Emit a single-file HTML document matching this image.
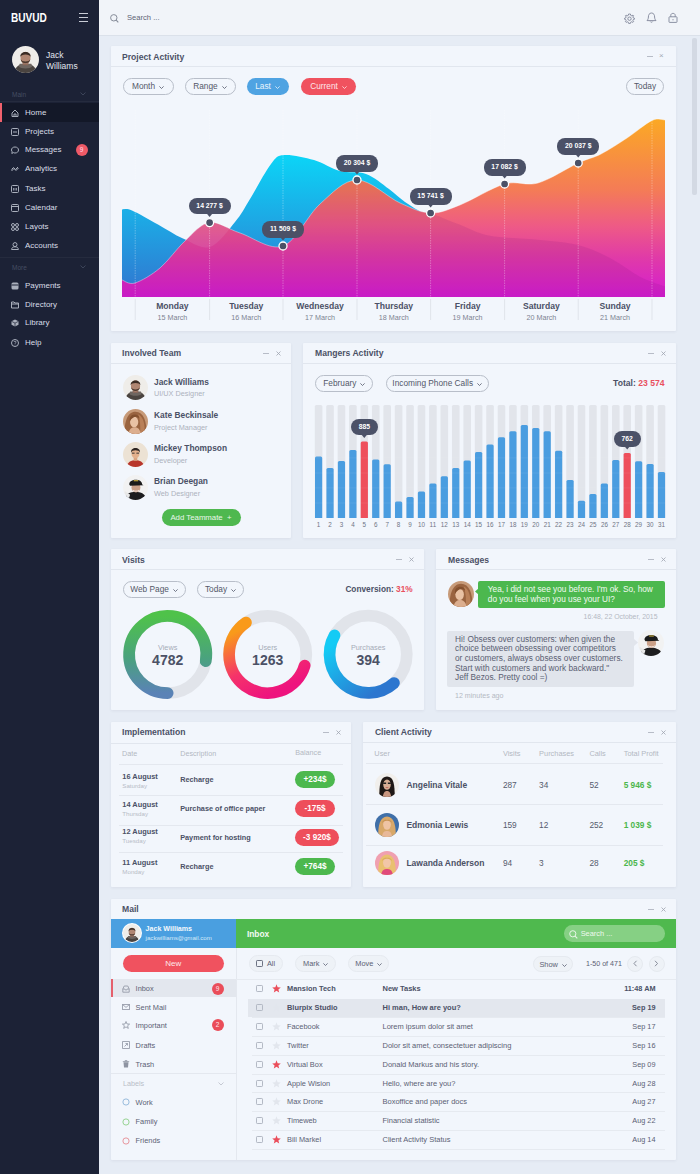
<!DOCTYPE html>
<html><head><meta charset="utf-8">
<style>
*{box-sizing:border-box;margin:0;padding:0}
html,body{width:700px;height:1174px;overflow:hidden}
body{background:#e6ecf5;font-family:"Liberation Sans",sans-serif;color:#4b5166;position:relative}
.a{position:absolute;white-space:nowrap}
#side{position:absolute;left:0;top:0;width:99px;height:1174px;background:#1c2236}
#hdr{position:absolute;left:99px;top:0;width:601px;height:36px;background:#f1f4f9;border-bottom:1px solid #dbe1ea}
.card{position:absolute;background:#f2f6fc;border-radius:1px;box-shadow:0 1px 3px rgba(50,60,90,.07)}
.ttl{position:absolute;left:11px;top:6px;font-size:8.6px;font-weight:bold;color:#4b5166;white-space:nowrap;line-height:10px}
.hl{position:absolute;left:0;right:0;height:1px;background:#e1e6ee}
.mn{position:absolute;width:6px;height:1px;background:#b7bcc7}
.cx{position:absolute;font-size:8px;color:#a3a9b5;line-height:8px}
.btn{position:absolute;border:1px solid #b8bec9;border-radius:9px;font-size:8.3px;color:#525869;text-align:center;white-space:nowrap}
.nav{position:absolute;left:25px;font-size:8px;color:#d9dde6;white-space:nowrap}
.ico{position:absolute;left:11px}
.tip{width:42px;height:16.5px;line-height:16.5px;border-radius:8px;background:#4b5167;color:#fff;font-size:6.8px;font-weight:bold;text-align:center}
.day{width:70px;text-align:center;font-size:8.6px;font-weight:bold;color:#4b5166;line-height:10px}
.dat{width:70px;text-align:center;font-size:7.2px;color:#7d8392;line-height:9px}
.chv{display:inline-block;margin-left:4px;vertical-align:middle;position:relative;top:0.5px}
</style></head><body>
<div id="side">
  <div class="a" style="left:11.4px;top:10.8px;font-size:12px;font-weight:bold;color:#fff;line-height:14px;transform:scaleX(0.84);transform-origin:0 0">BUVUD</div>
  <div class="a" style="left:79px;top:13px;width:9px;height:1px;background:#c9cdd7"></div>
  <div class="a" style="left:79px;top:17px;width:9px;height:1px;background:#c9cdd7"></div>
  <div class="a" style="left:79px;top:21px;width:9px;height:1px;background:#c9cdd7"></div>
  <svg class="a" style="left:11.5px;top:45.5px" width="27" height="27" viewBox="0 0 28 28"><defs><clipPath id="avc1"><circle cx="14" cy="14" r="14"/></clipPath></defs><g clip-path="url(#avc1)"><rect width="28" height="28" fill="#efede9"/>
<path d="M2 29 C3 21 8 18.5 14 18.5 C20 18.5 25 21 26 29 Z" fill="#4a4440"/>
<path d="M7 21 C9 24 19 24 21 21 L20 18.5 H8 Z" fill="#6e6661"/>
<rect x="11" y="15" width="6" height="5" fill="#8d6b5c"/>
<ellipse cx="14" cy="12.3" rx="5.2" ry="6.4" fill="#b08672"/>
<path d="M8.6 11.5 C8 4.5 20 4.5 19.4 11.5 C18.8 8 9.2 8 8.6 11.5 Z" fill="#3b2c24"/>
<path d="M9 13.5 C9.5 19.5 18.5 19.5 19 13.5 C18 17 10 17 9 13.5 Z" fill="#4d3a30"/></g></svg>
  <div class="a" style="left:46px;top:50px;font-size:8.5px;color:#e3e6ee;line-height:11px">Jack<br>Williams</div>
  <div class="a" style="left:12px;top:89.5px;font-size:6.5px;color:#454d62;line-height:9px">Main</div>
  <svg class="a" style="left:80px;top:92px" width="6" height="4" viewBox="0 0 6 4"><path d="M0.5 0.5 L3 3 L5.5 0.5" fill="none" stroke="#454d62" stroke-width=".8"/></svg>
  <div class="a" style="left:0;top:101px;width:99px;height:1px;background:#252b3e"></div>
  <div class="a" style="left:0;top:103px;width:99px;height:19px;background:#131828"></div>
  <div class="a" style="left:0;top:103px;width:2px;height:19px;background:#f0616d"></div>
  <div class="a" style="left:0;top:257px;width:99px;height:1px;background:#252b3e"></div>
  <div class="a" style="left:12px;top:262.5px;font-size:6.5px;color:#454d62;line-height:9px">More</div>
  <svg class="a" style="left:80px;top:265px" width="6" height="4" viewBox="0 0 6 4"><path d="M0.5 0.5 L3 3 L5.5 0.5" fill="none" stroke="#454d62" stroke-width=".8"/></svg>
  <div class="a" style="left:75.5px;top:144px;width:12px;height:12px;border-radius:6px;background:#ef5a67;color:#fde;font-size:6.5px;text-align:center;line-height:12px">9</div>
  <svg class="ico" style="top:109.0px" width="8" height="8" viewBox="0 0 8 8"><path d="M1 4 L4 1 L7 4 V7.5 H1 Z M3 7.5 V5 H5 V7.5" fill="none" stroke="#a9afbc" stroke-width="1"/></svg>
  <div class="nav" style="top:108.0px;line-height:10px">Home</div>
  <svg class="ico" style="top:127.5px" width="8" height="8" viewBox="0 0 8 8"><rect x="0.5" y="0.5" width="7" height="7" rx="1" fill="none" stroke="#a9afbc"/><path d="M2 4 H6" stroke="#a9afbc"/></svg>
  <div class="nav" style="top:126.5px;line-height:10px">Projects</div>
  <svg class="ico" style="top:146.0px" width="8" height="8" viewBox="0 0 8 8"><path d="M4 1 C6.2 1 7.5 2.3 7.5 4 C7.5 5.7 6.2 7 4 7 C3.3 7 2.8 6.9 2.3 6.6 L0.8 7.5 L1.2 5.8 C0.7 5.3 0.5 4.7 0.5 4 C0.5 2.3 1.8 1 4 1 Z" fill="none" stroke="#a9afbc"/></svg>
  <div class="nav" style="top:145.0px;line-height:10px">Messages</div>
  <svg class="ico" style="top:165.0px" width="8" height="8" viewBox="0 0 8 8"><path d="M0.5 6 L3 3.5 L5 5.5 L7.5 3 M0.5 4.5 L2.5 2.5 L4.5 4.5 L7 2" fill="none" stroke="#a9afbc"/></svg>
  <div class="nav" style="top:164.0px;line-height:10px">Analytics</div>
  <svg class="ico" style="top:184.5px" width="8" height="8" viewBox="0 0 8 8"><rect x="0.5" y="0.5" width="7" height="7" rx="1" fill="none" stroke="#a9afbc"/><path d="M2.5 3 V5.5 M4 3 V5.5 M5.5 3 V5.5" stroke="#a9afbc" stroke-width=".8"/></svg>
  <div class="nav" style="top:183.5px;line-height:10px">Tasks</div>
  <svg class="ico" style="top:203.5px" width="8" height="8" viewBox="0 0 8 8"><rect x="0.5" y="0.5" width="7" height="7" rx="1" fill="none" stroke="#a9afbc"/><path d="M0.5 2.5 H7.5" stroke="#a9afbc"/></svg>
  <div class="nav" style="top:202.5px;line-height:10px">Calendar</div>
  <svg class="ico" style="top:222.5px" width="8" height="8" viewBox="0 0 8 8"><circle cx="2" cy="2" r="1.5" fill="none" stroke="#a9afbc"/><circle cx="6" cy="2" r="1.5" fill="none" stroke="#a9afbc"/><circle cx="2" cy="6" r="1.5" fill="none" stroke="#a9afbc"/><circle cx="6" cy="6" r="1.5" fill="none" stroke="#a9afbc"/></svg>
  <div class="nav" style="top:221.5px;line-height:10px">Layots</div>
  <svg class="ico" style="top:241.5px" width="8" height="8" viewBox="0 0 8 8"><circle cx="4" cy="2.6" r="2" fill="none" stroke="#a9afbc"/><path d="M0.6 7.5 C0.8 5.5 2 4.8 4 4.8 C6 4.8 7.2 5.5 7.4 7.5 Z" fill="none" stroke="#a9afbc"/></svg>
  <div class="nav" style="top:240.5px;line-height:10px">Accounts</div>
  <svg class="ico" style="top:281.5px" width="8" height="8" viewBox="0 0 8 8"><rect x="0.5" y="0.5" width="7" height="7" rx="1.5" fill="#a9afbc"/><path d="M0.5 3 H7.5" stroke="#1c2236" stroke-width="1"/></svg>
  <div class="nav" style="top:280.5px;line-height:10px">Payments</div>
  <svg class="ico" style="top:300.5px" width="8" height="8" viewBox="0 0 8 8"><path d="M0.5 1 H3 L4 2 H7.5 V7 H0.5 Z M0.5 3 H7.5" fill="none" stroke="#a9afbc"/></svg>
  <div class="nav" style="top:299.5px;line-height:10px">Directory</div>
  <svg class="ico" style="top:319.0px" width="8" height="8" viewBox="0 0 8 8"><path d="M4 0.5 L7.5 2.3 V5.7 L4 7.5 L0.5 5.7 V2.3 Z" fill="#a9afbc"/><path d="M0.5 2.3 L4 4.1 L7.5 2.3 M4 4.1 V7.5" fill="none" stroke="#1c2236" stroke-width=".7"/></svg>
  <div class="nav" style="top:318.0px;line-height:10px">Library</div>
  <svg class="ico" style="top:338.5px" width="8" height="8" viewBox="0 0 8 8"><circle cx="4" cy="4" r="3.5" fill="none" stroke="#a9afbc"/><path d="M2.8 3 C2.8 2 5.2 2 5.2 3 C5.2 3.8 4 3.8 4 4.8 M4 5.7 V6.2" fill="none" stroke="#a9afbc" stroke-width=".8"/></svg>
  <div class="nav" style="top:337.5px;line-height:10px">Help</div>
</div>

<div id="hdr">
  <svg class="a" style="left:11px;top:14px" width="9" height="9" viewBox="0 0 9 9"><circle cx="3.8" cy="3.8" r="3.2" fill="none" stroke="#868c99" stroke-width="1"/><path d="M6.2 6.2 L8.3 8.3" stroke="#868c99" stroke-width="1.1"/></svg>
  <div class="a" style="left:28px;top:13px;font-size:7.6px;color:#5d6375;line-height:10px">Search ...</div>
  <svg class="a" style="left:525px;top:12.5px" width="11" height="11" viewBox="0 0 11 11"><path d="M5.5 1 L6.4 1 L6.7 2.3 L7.8 2.8 L9 2.1 L9.6 2.8 L8.9 3.9 L9.3 5 L10.5 5.3 V6.2 L9.3 6.5 L8.9 7.6 L9.6 8.7 L8.9 9.4 L7.8 8.7 L6.7 9.2 L6.4 10.4 H4.6 L4.3 9.2 L3.2 8.7 L2.1 9.4 L1.4 8.7 L2.1 7.6 L1.7 6.5 L0.5 6.2 V5.3 L1.7 5 L2.1 3.9 L1.4 2.8 L2.1 2.1 L3.2 2.8 L4.3 2.3 L4.6 1 Z" fill="none" stroke="#80869a" stroke-width=".9"/><circle cx="5.5" cy="5.7" r="1.7" fill="none" stroke="#80869a" stroke-width=".9"/></svg>
  <svg class="a" style="left:547px;top:12px" width="11" height="11" viewBox="0 0 11 11"><path d="M5.5 1 C3.2 1 2.4 3 2.4 5 C2.4 7 1.5 8 1 8.6 H10 C9.5 8 8.6 7 8.6 5 C8.6 3 7.8 1 5.5 1 Z" fill="none" stroke="#80869a" stroke-width=".9"/><path d="M4.3 9.6 C4.6 10.4 6.4 10.4 6.7 9.6" fill="none" stroke="#80869a" stroke-width=".9"/></svg>
  <svg class="a" style="left:569px;top:12px" width="10" height="11" viewBox="0 0 10 11"><rect x="1" y="4.8" width="8" height="5.6" rx=".6" fill="none" stroke="#80869a" stroke-width=".9"/><path d="M2.8 4.8 V3.2 C2.8 0.8 7.2 0.8 7.2 3.2 V4.8" fill="none" stroke="#80869a" stroke-width=".9"/><path d="M5 7 V8.4" stroke="#80869a" stroke-width=".8"/></svg>
</div>
<div class="a" style="left:692px;top:38px;width:4.5px;height:157px;border-radius:2px;background:#d3d9e3"></div>
<!-- card1 -->
<div class="card" style="left:111px;top:46px;width:565px;height:285px">
  <div class="ttl">Project Activity</div>
  <div class="hl" style="top:20px"></div>
  <div class="mn" style="left:536px;top:10px"></div>
  <div class="cx" style="left:548px;top:6px">×</div>
  <div class="btn" style="left:11.5px;top:32px;width:51px;height:17px;line-height:15px">Month<svg class="chv" width="5" height="3" viewBox="0 0 5 3"><path d="M.4 .4 L2.5 2.5 L4.6 .4" fill="none" stroke="currentColor" stroke-width=".8"/></svg></div>
  <div class="btn" style="left:73.5px;top:32px;width:51px;height:17px;line-height:15px">Range<svg class="chv" width="5" height="3" viewBox="0 0 5 3"><path d="M.4 .4 L2.5 2.5 L4.6 .4" fill="none" stroke="currentColor" stroke-width=".8"/></svg></div>
  <div class="btn" style="left:135.5px;top:32px;width:42px;height:17px;line-height:17px;border:none;background:#4fa3e2;color:#e9f3fc">Last<svg class="chv" width="5" height="3" viewBox="0 0 5 3"><path d="M.4 .4 L2.5 2.5 L4.6 .4" fill="none" stroke="currentColor" stroke-width=".8"/></svg></div>
  <div class="btn" style="left:190px;top:32px;width:55px;height:17px;line-height:17px;border:none;background:#f0525f;color:#fde6e8">Current<svg class="chv" width="5" height="3" viewBox="0 0 5 3"><path d="M.4 .4 L2.5 2.5 L4.6 .4" fill="none" stroke="currentColor" stroke-width=".8"/></svg></div>
  <div class="btn" style="left:515px;top:32px;width:38px;height:17px;line-height:15px">Today</div>
<svg class="a" style="left:0;top:0" width="565" height="285" viewBox="0 0 565 285">
<defs>
<linearGradient id="gP" x1="0" y1="74" x2="0" y2="251" gradientUnits="userSpaceOnUse">
<stop offset="0" stop-color="#fba825"/><stop offset="0.4" stop-color="#f47b57"/><stop offset="0.6" stop-color="#ee5a86"/><stop offset="0.78" stop-color="#e03aa8"/><stop offset="1" stop-color="#d41dd2"/></linearGradient>
<linearGradient id="gB" x1="0" y1="104" x2="0" y2="251" gradientUnits="userSpaceOnUse">
<stop offset="0" stop-color="#0ad8f8"/><stop offset="1" stop-color="#3274cf"/></linearGradient>
<clipPath id="cR"><rect x="11" y="0" width="318" height="251"/></clipPath>
<clipPath id="cP"><path d="M11.0,234.0 C13.2,234.5 17.7,239.0 24.0,237.0 C30.3,235.0 40.7,229.0 49.0,222.0 C57.3,215.0 65.7,202.6 74.0,195.0 C82.3,187.4 89.4,177.9 98.6,176.6 C107.8,175.3 116.8,183.1 129.0,187.0 C141.2,190.9 158.7,204.8 172.0,200.0 C185.3,195.2 196.7,169.0 209.0,158.0 C221.3,147.0 232.7,134.2 246.0,134.0 C259.3,133.8 276.7,151.5 289.0,157.0 C301.3,162.5 309.6,166.7 319.6,167.0 C329.6,167.3 336.7,163.8 349.0,159.0 C361.3,154.2 380.6,141.7 393.6,138.0 C406.6,134.3 414.7,140.5 427.0,137.0 C439.3,133.5 456.7,121.8 467.2,117.0 C477.7,112.2 481.9,112.2 490.0,108.0 C498.1,103.8 507.5,97.6 516.0,92.0 C524.5,86.4 534.7,77.5 541.0,74.5 C547.3,71.5 551.8,74.1 554.0,74.0 L554,251 L11,251 Z"/></clipPath>
</defs>
<path d="M11.0,163.5 C12.7,163.7 15.0,162.0 21.0,164.5 C27.0,167.0 38.5,173.8 47.0,178.5 C55.5,183.2 63.3,188.8 72.0,192.5 C80.7,196.2 90.3,203.8 99.0,201.0 C107.7,198.2 117.3,184.0 124.0,176.0 C130.7,168.0 133.0,162.7 139.0,153.0 C145.0,143.3 154.3,125.3 160.0,118.0 C165.7,110.7 165.8,109.7 173.0,109.0 C180.2,108.3 193.7,111.3 203.0,114.0 C212.3,116.7 220.3,122.7 229.0,125.0 C237.7,127.3 246.8,125.0 255.0,128.0 C263.2,131.0 271.5,138.3 278.0,143.0 C284.5,147.7 288.0,151.8 294.0,156.0 C300.0,160.2 306.5,164.2 314.0,168.0 C321.5,171.8 329.8,164.7 339.0,179.0 C348.2,193.3 333.2,241.5 369.0,254.0 C404.8,266.5 523.2,254.0 554.0,254.0 L554,251 L11,251 Z" fill="url(#gB)" clip-path="url(#cR)"/>
<path d="M11.0,234.0 C13.2,234.5 17.7,239.0 24.0,237.0 C30.3,235.0 40.7,229.0 49.0,222.0 C57.3,215.0 65.7,202.6 74.0,195.0 C82.3,187.4 89.4,177.9 98.6,176.6 C107.8,175.3 116.8,183.1 129.0,187.0 C141.2,190.9 158.7,204.8 172.0,200.0 C185.3,195.2 196.7,169.0 209.0,158.0 C221.3,147.0 232.7,134.2 246.0,134.0 C259.3,133.8 276.7,151.5 289.0,157.0 C301.3,162.5 309.6,166.7 319.6,167.0 C329.6,167.3 336.7,163.8 349.0,159.0 C361.3,154.2 380.6,141.7 393.6,138.0 C406.6,134.3 414.7,140.5 427.0,137.0 C439.3,133.5 456.7,121.8 467.2,117.0 C477.7,112.2 481.9,112.2 490.0,108.0 C498.1,103.8 507.5,97.6 516.0,92.0 C524.5,86.4 534.7,77.5 541.0,74.5 C547.3,71.5 551.8,74.1 554.0,74.0 L554,251 L11,251 Z" fill="url(#gP)"/>
<clipPath id="cT"><rect x="59" y="0" width="70" height="251"/></clipPath>
<g clip-path="url(#cT)"><path d="M59,0 H129 V251 H59 Z M11.0,163.5 C12.7,163.7 15.0,162.0 21.0,164.5 C27.0,167.0 38.5,173.8 47.0,178.5 C55.5,183.2 63.3,188.8 72.0,192.5 C80.7,196.2 90.3,203.8 99.0,201.0 C107.7,198.2 117.3,184.0 124.0,176.0 C130.7,168.0 133.0,162.7 139.0,153.0 C145.0,143.3 154.3,125.3 160.0,118.0 C165.7,110.7 165.8,109.7 173.0,109.0 C180.2,108.3 193.7,111.3 203.0,114.0 C212.3,116.7 220.3,122.7 229.0,125.0 C237.7,127.3 246.8,125.0 255.0,128.0 C263.2,131.0 271.5,138.3 278.0,143.0 C284.5,147.7 288.0,151.8 294.0,156.0 C300.0,160.2 306.5,164.2 314.0,168.0 C321.5,171.8 329.8,164.7 339.0,179.0 C348.2,193.3 333.2,241.5 369.0,254.0 C404.8,266.5 523.2,254.0 554.0,254.0 L554,251 L11,251 Z" fill-rule="evenodd" fill="#ffffff" fill-opacity="0.1" clip-path="url(#cP)"/></g>
<path d="M11.0,234.0 C13.2,234.5 17.7,239.0 24.0,237.0 C30.3,235.0 40.7,229.0 49.0,222.0 C57.3,215.0 65.7,202.6 74.0,195.0 C82.3,187.4 89.4,177.9 98.6,176.6 C107.8,175.3 116.8,183.1 129.0,187.0 C141.2,190.9 158.7,204.8 172.0,200.0 C185.3,195.2 196.7,169.0 209.0,158.0 C221.3,147.0 232.7,134.2 246.0,134.0 C259.3,133.8 276.7,151.5 289.0,157.0 C301.3,162.5 309.6,166.7 319.6,167.0 C329.6,167.3 336.7,163.8 349.0,159.0 C361.3,154.2 380.6,141.7 393.6,138.0 C406.6,134.3 414.7,140.5 427.0,137.0 C439.3,133.5 456.7,121.8 467.2,117.0 C477.7,112.2 481.9,112.2 490.0,108.0 C498.1,103.8 507.5,97.6 516.0,92.0 C524.5,86.4 534.7,77.5 541.0,74.5 C547.3,71.5 551.8,74.1 554.0,74.0" fill="none" stroke="#fff" stroke-opacity="0.5" stroke-width="0.8"/>
<path d="M11,251 L11,0 L319.6,0 L319.6,167.0 C324.5,169.0 339.1,175.0 349.0,178.8 C358.9,182.6 365.7,187.3 379.0,189.8 C392.3,192.3 414.3,192.5 429.0,194.0 C443.7,195.5 455.3,196.0 467.0,199.0 C478.7,202.0 488.7,206.7 499.0,212.0 C509.3,217.3 520.0,226.0 529.0,230.7 C538.0,235.4 548.8,238.4 553.0,240.0 C557.2,241.6 553.8,240.0 554.0,240.0 L554,251 Z" fill="#7a0f7a" fill-opacity="0.13" clip-path="url(#cP)"/>
<line x1="24.19999999999999" y1="64" x2="24.19999999999999" y2="251" stroke="#fff" stroke-opacity="0.5" stroke-width="0.6" stroke-dasharray="1.5,1"/>
<line x1="24.19999999999999" y1="253" x2="24.19999999999999" y2="274" stroke="#e0e4eb" stroke-width="1"/>
<line x1="98.6" y1="64" x2="98.6" y2="251" stroke="#fff" stroke-opacity="0.5" stroke-width="0.6" stroke-dasharray="1.5,1"/>
<line x1="98.6" y1="253" x2="98.6" y2="274" stroke="#e0e4eb" stroke-width="1"/>
<line x1="172" y1="64" x2="172" y2="251" stroke="#fff" stroke-opacity="0.5" stroke-width="0.6" stroke-dasharray="1.5,1"/>
<line x1="172" y1="253" x2="172" y2="274" stroke="#e0e4eb" stroke-width="1"/>
<line x1="246" y1="64" x2="246" y2="251" stroke="#fff" stroke-opacity="0.5" stroke-width="0.6" stroke-dasharray="1.5,1"/>
<line x1="246" y1="253" x2="246" y2="274" stroke="#e0e4eb" stroke-width="1"/>
<line x1="319.6" y1="64" x2="319.6" y2="251" stroke="#fff" stroke-opacity="0.5" stroke-width="0.6" stroke-dasharray="1.5,1"/>
<line x1="319.6" y1="253" x2="319.6" y2="274" stroke="#e0e4eb" stroke-width="1"/>
<line x1="393.6" y1="64" x2="393.6" y2="251" stroke="#fff" stroke-opacity="0.5" stroke-width="0.6" stroke-dasharray="1.5,1"/>
<line x1="393.6" y1="253" x2="393.6" y2="274" stroke="#e0e4eb" stroke-width="1"/>
<line x1="467.20000000000005" y1="64" x2="467.20000000000005" y2="251" stroke="#fff" stroke-opacity="0.5" stroke-width="0.6" stroke-dasharray="1.5,1"/>
<line x1="467.20000000000005" y1="253" x2="467.20000000000005" y2="274" stroke="#e0e4eb" stroke-width="1"/>
<line x1="541" y1="64" x2="541" y2="251" stroke="#fff" stroke-opacity="0.5" stroke-width="0.6" stroke-dasharray="1.5,1"/>
<line x1="541" y1="253" x2="541" y2="274" stroke="#e0e4eb" stroke-width="1"/>
<circle cx="98.6" cy="176.6" r="4" fill="#4b5167" stroke="#fff" stroke-width="1.3"/>
<path d="M96.1,168.1 L98.6,171.1 L101.1,168.1 Z" fill="#4b5167"/>
<circle cx="172" cy="200" r="4" fill="#4b5167" stroke="#fff" stroke-width="1.3"/>
<path d="M169.5,191.5 L172,194.5 L174.5,191.5 Z" fill="#4b5167"/>
<circle cx="246" cy="134" r="4" fill="#4b5167" stroke="#fff" stroke-width="1.3"/>
<path d="M243.5,125.5 L246,128.5 L248.5,125.5 Z" fill="#4b5167"/>
<circle cx="319.6" cy="167" r="4" fill="#4b5167" stroke="#fff" stroke-width="1.3"/>
<path d="M317.1,158.5 L319.6,161.5 L322.1,158.5 Z" fill="#4b5167"/>
<circle cx="393.6" cy="138" r="4" fill="#4b5167" stroke="#fff" stroke-width="1.3"/>
<path d="M391.1,129.5 L393.6,132.5 L396.1,129.5 Z" fill="#4b5167"/>
<circle cx="467.20000000000005" cy="117" r="4" fill="#4b5167" stroke="#fff" stroke-width="1.3"/>
<path d="M464.70000000000005,108.5 L467.20000000000005,111.5 L469.70000000000005,108.5 Z" fill="#4b5167"/>
</svg>
<div class="a tip" style="left:77.6px;top:151.6px">14 277 $</div>
<div class="a tip" style="left:151.0px;top:175.0px">11 509 $</div>
<div class="a tip" style="left:225.0px;top:109.0px">20 304 $</div>
<div class="a tip" style="left:298.6px;top:142.0px">15 741 $</div>
<div class="a tip" style="left:372.6px;top:113.0px">17 082 $</div>
<div class="a tip" style="left:446.2px;top:92.0px">20 037 $</div>
<div class="a day" style="left:26.4px;top:255px">Monday</div>
<div class="a dat" style="left:26.4px;top:266.5px">15 March</div>
<div class="a day" style="left:100.3px;top:255px">Tuesday</div>
<div class="a dat" style="left:100.3px;top:266.5px">16 March</div>
<div class="a day" style="left:174.0px;top:255px">Wednesday</div>
<div class="a dat" style="left:174.0px;top:266.5px">17 March</div>
<div class="a day" style="left:247.8px;top:255px">Thursday</div>
<div class="a dat" style="left:247.8px;top:266.5px">18 March</div>
<div class="a day" style="left:321.6px;top:255px">Friday</div>
<div class="a dat" style="left:321.6px;top:266.5px">19 March</div>
<div class="a day" style="left:395.4px;top:255px">Saturday</div>
<div class="a dat" style="left:395.4px;top:266.5px">20 March</div>
<div class="a day" style="left:469.1px;top:255px">Sunday</div>
<div class="a dat" style="left:469.1px;top:266.5px">21 March</div>

</div>
<div class="card" style="left:111px;top:343px;width:180px;height:195px">
<div class="ttl" style="top:5px">Involved Team</div><div class="hl" style="top:20px"></div><div class="mn" style="left:151.5px;top:10px"></div><svg class="a" style="left:164.5px;top:7.5px" width="5" height="5" viewBox="0 0 5 5"><path d="M.5 .5 L4.5 4.5 M4.5 .5 L.5 4.5" stroke="#9da3af" stroke-width=".8"/></svg>
<svg class="a" style="left:11.9px;top:32.1px" width="25" height="25" viewBox="0 0 28 28"><defs><clipPath id="avc1"><circle cx="14" cy="14" r="14"/></clipPath></defs><g clip-path="url(#avc1)"><rect width="28" height="28" fill="#efede9"/>
<path d="M2 29 C3 21 8 18.5 14 18.5 C20 18.5 25 21 26 29 Z" fill="#4a4440"/>
<path d="M7 21 C9 24 19 24 21 21 L20 18.5 H8 Z" fill="#6e6661"/>
<rect x="11" y="15" width="6" height="5" fill="#8d6b5c"/>
<ellipse cx="14" cy="12.3" rx="5.2" ry="6.4" fill="#b08672"/>
<path d="M8.6 11.5 C8 4.5 20 4.5 19.4 11.5 C18.8 8 9.2 8 8.6 11.5 Z" fill="#3b2c24"/>
<path d="M9 13.5 C9.5 19.5 18.5 19.5 19 13.5 C18 17 10 17 9 13.5 Z" fill="#4d3a30"/></g></svg>
<div class="a" style="left:43px;top:33.6px;font-size:8.4px;font-weight:bold;color:#4b5166;line-height:10px">Jack Williams</div>
<div class="a" style="left:43px;top:46.1px;font-size:7.3px;color:#adb2bd;line-height:9px">UI/UX Designer</div>
<svg class="a" style="left:11.9px;top:65.5px" width="25" height="25" viewBox="0 0 28 28"><defs><clipPath id="avc2"><circle cx="14" cy="14" r="14"/></clipPath></defs><g clip-path="url(#avc2)"><rect width="28" height="28" fill="#c79a78"/>
<path d="M2 28 C1 15 5 3 14 3 C23 3 27 14 26 28 Z" fill="#9a6440"/>
<path d="M17 6 C23 9 25 18 24 28 L19 28 C20 20 19 12 17 6 Z" fill="#b98058"/>
<ellipse cx="12.5" cy="14.5" rx="4.6" ry="6" fill="#e9c2a4"/>
<path d="M7.5 11 C8 5 18 4.5 18.5 10.5 C15.5 7.5 11 8 7.5 14 Z" fill="#83502e"/>
<path d="M6 28 C7 22 10 20.5 13 20.5 C16 20.5 19 22 20 28 Z" fill="#dcae8e"/></g></svg>
<div class="a" style="left:43px;top:67.0px;font-size:8.4px;font-weight:bold;color:#4b5166;line-height:10px">Kate Beckinsale</div>
<div class="a" style="left:43px;top:79.5px;font-size:7.3px;color:#adb2bd;line-height:9px">Project Manager</div>
<svg class="a" style="left:11.9px;top:98.5px" width="25" height="25" viewBox="0 0 28 28"><defs><clipPath id="avc3"><circle cx="14" cy="14" r="14"/></clipPath></defs><g clip-path="url(#avc3)"><rect width="28" height="28" fill="#ece2d4"/>
<path d="M4 29 C5 22 9 20.5 14 20.5 C19 20.5 23 22 24 29 Z" fill="#b8362c"/>
<rect x="12" y="16" width="4" height="5" fill="#d9a27e"/>
<ellipse cx="14" cy="13" rx="4.5" ry="5.5" fill="#e3b08c"/>
<path d="M9 12 C8 5 20 5 19 12 C18 8.5 10 8.5 9 12 Z" fill="#2d2420"/>
<path d="M10 12.5 H13 M15 12.5 H18" stroke="#2a2a2a" stroke-width="1"/></g></svg>
<div class="a" style="left:43px;top:100.0px;font-size:8.4px;font-weight:bold;color:#4b5166;line-height:10px">Mickey Thompson</div>
<div class="a" style="left:43px;top:112.5px;font-size:7.3px;color:#adb2bd;line-height:9px">Developer</div>
<svg class="a" style="left:11.9px;top:131.5px" width="25" height="25" viewBox="0 0 28 28"><defs><clipPath id="avc4"><circle cx="14" cy="14" r="14"/></clipPath></defs><g clip-path="url(#avc4)"><rect width="28" height="28" fill="#f2f2f2"/>
<path d="M1 29 C2 21 8 19 14 19 C20 19 26 21 27 29 Z" fill="#1d1d1f"/>
<path d="M2 18 L8 22 L6 28 L1 26 Z" fill="#e8e8e8"/>
<ellipse cx="14.5" cy="14" rx="5" ry="5.5" fill="#caa088"/>
<path d="M7 10.5 C7 4 21 3.5 21.5 10.5 L23 11.5 L8 12 Z" fill="#1a1a1a"/>
<path d="M12 6.5 H17" stroke="#e0c040" stroke-width="1.2"/>
<path d="M11 17 C12.5 18.5 16.5 18.5 18 17" stroke="#fff" stroke-width=".8" fill="none"/></g></svg>
<div class="a" style="left:43px;top:133.0px;font-size:8.4px;font-weight:bold;color:#4b5166;line-height:10px">Brian Deegan</div>
<div class="a" style="left:43px;top:145.5px;font-size:7.3px;color:#adb2bd;line-height:9px">Web Designer</div>
<div class="a" style="left:50.5px;top:166px;width:79px;height:17px;border-radius:9px;background:#4fb84f;color:#eaf6ea;font-size:7.8px;line-height:17px;text-align:center">Add Teammate&nbsp;&nbsp;+</div>
</div>
<div class="card" style="left:303px;top:343px;width:373px;height:195px">
<div class="ttl" style="top:5px;left:12px">Mangers Activity</div><div class="hl" style="top:20px"></div><div class="mn" style="left:344.5px;top:10px"></div><svg class="a" style="left:357.5px;top:7.5px" width="5" height="5" viewBox="0 0 5 5"><path d="M.5 .5 L4.5 4.5 M4.5 .5 L.5 4.5" stroke="#9da3af" stroke-width=".8"/></svg>
<div class="btn" style="left:12.4px;top:32px;width:58px;height:17px;line-height:15px">February<svg class="chv" width="5" height="3" viewBox="0 0 5 3"><path d="M.4 .4 L2.5 2.5 L4.6 .4" fill="none" stroke="currentColor" stroke-width=".8"/></svg></div>
<div class="btn" style="left:82.7px;top:32px;width:103px;height:17px;line-height:15px">Incoming Phone Calls<svg class="chv" width="5" height="3" viewBox="0 0 5 3"><path d="M.4 .4 L2.5 2.5 L4.6 .4" fill="none" stroke="currentColor" stroke-width=".8"/></svg></div>
<div class="a" style="right:11.5px;top:35px;font-size:8.6px;font-weight:bold;color:#4b5166;line-height:10px">Total: <span style="color:#e9505e">23 574</span></div>
<svg class="a" style="left:0;top:0" width="373" height="195" viewBox="0 0 373 195"><path d="M11.80,174.89999999999998 V63.5 q0,-1.5 1.5,-1.5 h4.6 q1.5,0 1.5,1.5 V174.89999999999998 Z" fill="#e2e5eb"/><path d="M12.00,174.89999999999998 V115.10000000000002 q0,-1.5 1.5,-1.5 h4.2 q1.5,0 1.5,1.5 V174.89999999999998 Z" fill="#4a9de0"/><path d="M23.23,174.89999999999998 V63.5 q0,-1.5 1.5,-1.5 h4.6 q1.5,0 1.5,1.5 V174.89999999999998 Z" fill="#e2e5eb"/><path d="M23.43,174.89999999999998 V126.5 q0,-1.5 1.5,-1.5 h4.2 q1.5,0 1.5,1.5 V174.89999999999998 Z" fill="#4a9de0"/><path d="M34.66,174.89999999999998 V63.5 q0,-1.5 1.5,-1.5 h4.6 q1.5,0 1.5,1.5 V174.89999999999998 Z" fill="#e2e5eb"/><path d="M34.86,174.89999999999998 V119.39999999999998 q0,-1.5 1.5,-1.5 h4.2 q1.5,0 1.5,1.5 V174.89999999999998 Z" fill="#4a9de0"/><path d="M46.09,174.89999999999998 V63.5 q0,-1.5 1.5,-1.5 h4.6 q1.5,0 1.5,1.5 V174.89999999999998 Z" fill="#e2e5eb"/><path d="M46.29,174.89999999999998 V108.5 q0,-1.5 1.5,-1.5 h4.2 q1.5,0 1.5,1.5 V174.89999999999998 Z" fill="#4a9de0"/><path d="M57.52,174.89999999999998 V63.5 q0,-1.5 1.5,-1.5 h4.6 q1.5,0 1.5,1.5 V174.89999999999998 Z" fill="#e2e5eb"/><path d="M57.72,174.89999999999998 V99.89999999999998 q0,-1.5 1.5,-1.5 h4.2 q1.5,0 1.5,1.5 V174.89999999999998 Z" fill="#ee4f5c"/><path d="M68.95,174.89999999999998 V63.5 q0,-1.5 1.5,-1.5 h4.6 q1.5,0 1.5,1.5 V174.89999999999998 Z" fill="#e2e5eb"/><path d="M69.15,174.89999999999998 V117.89999999999998 q0,-1.5 1.5,-1.5 h4.2 q1.5,0 1.5,1.5 V174.89999999999998 Z" fill="#4a9de0"/><path d="M80.38,174.89999999999998 V63.5 q0,-1.5 1.5,-1.5 h4.6 q1.5,0 1.5,1.5 V174.89999999999998 Z" fill="#e2e5eb"/><path d="M80.58,174.89999999999998 V122.80000000000001 q0,-1.5 1.5,-1.5 h4.2 q1.5,0 1.5,1.5 V174.89999999999998 Z" fill="#4a9de0"/><path d="M91.81,174.89999999999998 V63.5 q0,-1.5 1.5,-1.5 h4.6 q1.5,0 1.5,1.5 V174.89999999999998 Z" fill="#e2e5eb"/><path d="M92.01,174.89999999999998 V159.89999999999998 q0,-1.5 1.5,-1.5 h4.2 q1.5,0 1.5,1.5 V174.89999999999998 Z" fill="#4a9de0"/><path d="M103.24,174.89999999999998 V63.5 q0,-1.5 1.5,-1.5 h4.6 q1.5,0 1.5,1.5 V174.89999999999998 Z" fill="#e2e5eb"/><path d="M103.44,174.89999999999998 V155.5 q0,-1.5 1.5,-1.5 h4.2 q1.5,0 1.5,1.5 V174.89999999999998 Z" fill="#4a9de0"/><path d="M114.67,174.89999999999998 V63.5 q0,-1.5 1.5,-1.5 h4.6 q1.5,0 1.5,1.5 V174.89999999999998 Z" fill="#e2e5eb"/><path d="M114.87,174.89999999999998 V149.89999999999998 q0,-1.5 1.5,-1.5 h4.2 q1.5,0 1.5,1.5 V174.89999999999998 Z" fill="#4a9de0"/><path d="M126.10,174.89999999999998 V63.5 q0,-1.5 1.5,-1.5 h4.6 q1.5,0 1.5,1.5 V174.89999999999998 Z" fill="#e2e5eb"/><path d="M126.30,174.89999999999998 V141.89999999999998 q0,-1.5 1.5,-1.5 h4.2 q1.5,0 1.5,1.5 V174.89999999999998 Z" fill="#4a9de0"/><path d="M137.53,174.89999999999998 V63.5 q0,-1.5 1.5,-1.5 h4.6 q1.5,0 1.5,1.5 V174.89999999999998 Z" fill="#e2e5eb"/><path d="M137.73,174.89999999999998 V134.8 q0,-1.5 1.5,-1.5 h4.2 q1.5,0 1.5,1.5 V174.89999999999998 Z" fill="#4a9de0"/><path d="M148.96,174.89999999999998 V63.5 q0,-1.5 1.5,-1.5 h4.6 q1.5,0 1.5,1.5 V174.89999999999998 Z" fill="#e2e5eb"/><path d="M149.16,174.89999999999998 V126.5 q0,-1.5 1.5,-1.5 h4.2 q1.5,0 1.5,1.5 V174.89999999999998 Z" fill="#4a9de0"/><path d="M160.39,174.89999999999998 V63.5 q0,-1.5 1.5,-1.5 h4.6 q1.5,0 1.5,1.5 V174.89999999999998 Z" fill="#e2e5eb"/><path d="M160.59,174.89999999999998 V119.10000000000002 q0,-1.5 1.5,-1.5 h4.2 q1.5,0 1.5,1.5 V174.89999999999998 Z" fill="#4a9de0"/><path d="M171.82,174.89999999999998 V63.5 q0,-1.5 1.5,-1.5 h4.6 q1.5,0 1.5,1.5 V174.89999999999998 Z" fill="#e2e5eb"/><path d="M172.02,174.89999999999998 V110.5 q0,-1.5 1.5,-1.5 h4.2 q1.5,0 1.5,1.5 V174.89999999999998 Z" fill="#4a9de0"/><path d="M183.25,174.89999999999998 V63.5 q0,-1.5 1.5,-1.5 h4.6 q1.5,0 1.5,1.5 V174.89999999999998 Z" fill="#e2e5eb"/><path d="M183.45,174.89999999999998 V102.89999999999998 q0,-1.5 1.5,-1.5 h4.2 q1.5,0 1.5,1.5 V174.89999999999998 Z" fill="#4a9de0"/><path d="M194.68,174.89999999999998 V63.5 q0,-1.5 1.5,-1.5 h4.6 q1.5,0 1.5,1.5 V174.89999999999998 Z" fill="#e2e5eb"/><path d="M194.88,174.89999999999998 V95.80000000000001 q0,-1.5 1.5,-1.5 h4.2 q1.5,0 1.5,1.5 V174.89999999999998 Z" fill="#4a9de0"/><path d="M206.11,174.89999999999998 V63.5 q0,-1.5 1.5,-1.5 h4.6 q1.5,0 1.5,1.5 V174.89999999999998 Z" fill="#e2e5eb"/><path d="M206.31,174.89999999999998 V89.80000000000001 q0,-1.5 1.5,-1.5 h4.2 q1.5,0 1.5,1.5 V174.89999999999998 Z" fill="#4a9de0"/><path d="M217.54,174.89999999999998 V63.5 q0,-1.5 1.5,-1.5 h4.6 q1.5,0 1.5,1.5 V174.89999999999998 Z" fill="#e2e5eb"/><path d="M217.74,174.89999999999998 V83.5 q0,-1.5 1.5,-1.5 h4.2 q1.5,0 1.5,1.5 V174.89999999999998 Z" fill="#4a9de0"/><path d="M228.97,174.89999999999998 V63.5 q0,-1.5 1.5,-1.5 h4.6 q1.5,0 1.5,1.5 V174.89999999999998 Z" fill="#e2e5eb"/><path d="M229.17,174.89999999999998 V86.39999999999998 q0,-1.5 1.5,-1.5 h4.2 q1.5,0 1.5,1.5 V174.89999999999998 Z" fill="#4a9de0"/><path d="M240.40,174.89999999999998 V63.5 q0,-1.5 1.5,-1.5 h4.6 q1.5,0 1.5,1.5 V174.89999999999998 Z" fill="#e2e5eb"/><path d="M240.60,174.89999999999998 V89.80000000000001 q0,-1.5 1.5,-1.5 h4.2 q1.5,0 1.5,1.5 V174.89999999999998 Z" fill="#4a9de0"/><path d="M251.83,174.89999999999998 V63.5 q0,-1.5 1.5,-1.5 h4.6 q1.5,0 1.5,1.5 V174.89999999999998 Z" fill="#e2e5eb"/><path d="M252.03,174.89999999999998 V109.19999999999999 q0,-1.5 1.5,-1.5 h4.2 q1.5,0 1.5,1.5 V174.89999999999998 Z" fill="#4a9de0"/><path d="M263.26,174.89999999999998 V63.5 q0,-1.5 1.5,-1.5 h4.6 q1.5,0 1.5,1.5 V174.89999999999998 Z" fill="#e2e5eb"/><path d="M263.46,174.89999999999998 V138.39999999999998 q0,-1.5 1.5,-1.5 h4.2 q1.5,0 1.5,1.5 V174.89999999999998 Z" fill="#4a9de0"/><path d="M274.69,174.89999999999998 V63.5 q0,-1.5 1.5,-1.5 h4.6 q1.5,0 1.5,1.5 V174.89999999999998 Z" fill="#e2e5eb"/><path d="M274.89,174.89999999999998 V159.2 q0,-1.5 1.5,-1.5 h4.2 q1.5,0 1.5,1.5 V174.89999999999998 Z" fill="#4a9de0"/><path d="M286.12,174.89999999999998 V63.5 q0,-1.5 1.5,-1.5 h4.6 q1.5,0 1.5,1.5 V174.89999999999998 Z" fill="#e2e5eb"/><path d="M286.32,174.89999999999998 V152.39999999999998 q0,-1.5 1.5,-1.5 h4.2 q1.5,0 1.5,1.5 V174.89999999999998 Z" fill="#4a9de0"/><path d="M297.55,174.89999999999998 V63.5 q0,-1.5 1.5,-1.5 h4.6 q1.5,0 1.5,1.5 V174.89999999999998 Z" fill="#e2e5eb"/><path d="M297.75,174.89999999999998 V142.10000000000002 q0,-1.5 1.5,-1.5 h4.2 q1.5,0 1.5,1.5 V174.89999999999998 Z" fill="#4a9de0"/><path d="M308.98,174.89999999999998 V63.5 q0,-1.5 1.5,-1.5 h4.6 q1.5,0 1.5,1.5 V174.89999999999998 Z" fill="#e2e5eb"/><path d="M309.18,174.89999999999998 V118.39999999999998 q0,-1.5 1.5,-1.5 h4.2 q1.5,0 1.5,1.5 V174.89999999999998 Z" fill="#4a9de0"/><path d="M320.41,174.89999999999998 V63.5 q0,-1.5 1.5,-1.5 h4.6 q1.5,0 1.5,1.5 V174.89999999999998 Z" fill="#e2e5eb"/><path d="M320.61,174.89999999999998 V111.5 q0,-1.5 1.5,-1.5 h4.2 q1.5,0 1.5,1.5 V174.89999999999998 Z" fill="#ee4f5c"/><path d="M331.84,174.89999999999998 V63.5 q0,-1.5 1.5,-1.5 h4.6 q1.5,0 1.5,1.5 V174.89999999999998 Z" fill="#e2e5eb"/><path d="M332.04,174.89999999999998 V119.80000000000001 q0,-1.5 1.5,-1.5 h4.2 q1.5,0 1.5,1.5 V174.89999999999998 Z" fill="#4a9de0"/><path d="M343.27,174.89999999999998 V63.5 q0,-1.5 1.5,-1.5 h4.6 q1.5,0 1.5,1.5 V174.89999999999998 Z" fill="#e2e5eb"/><path d="M343.47,174.89999999999998 V122.60000000000002 q0,-1.5 1.5,-1.5 h4.2 q1.5,0 1.5,1.5 V174.89999999999998 Z" fill="#4a9de0"/><path d="M354.70,174.89999999999998 V63.5 q0,-1.5 1.5,-1.5 h4.6 q1.5,0 1.5,1.5 V174.89999999999998 Z" fill="#e2e5eb"/><path d="M354.90,174.89999999999998 V130.60000000000002 q0,-1.5 1.5,-1.5 h4.2 q1.5,0 1.5,1.5 V174.89999999999998 Z" fill="#4a9de0"/><line x1="11" x2="363" y1="114.89999999999998" y2="114.89999999999998" stroke="#fff" stroke-opacity="0.12" stroke-width="0.6"/><line x1="11" x2="363" y1="130" y2="130" stroke="#fff" stroke-opacity="0.12" stroke-width="0.6"/><line x1="11" x2="363" y1="144.89999999999998" y2="144.89999999999998" stroke="#fff" stroke-opacity="0.12" stroke-width="0.6"/><line x1="11" x2="363" y1="160" y2="160" stroke="#fff" stroke-opacity="0.12" stroke-width="0.6"/><path d="M58.8,91.89999999999998 L61.3,94.89999999999998 L63.8,91.89999999999998 Z" fill="#4b5167"/><path d="M321.7,103.5 L324.2,106.5 L326.7,103.5 Z" fill="#4b5167"/></svg>
<div class="a tip" style="left:47.8px;top:75.9px;width:27px;height:16px;line-height:16px;font-size:6.8px">885</div>
<div class="a tip" style="left:310.7px;top:87.5px;width:27px;height:16px;line-height:16px;font-size:6.8px">762</div>
<div class="a" style="left:9.6px;top:176.5px;width:12px;text-align:center;font-size:6.3px;color:#6f7585;line-height:9px">1</div><div class="a" style="left:21.0px;top:176.5px;width:12px;text-align:center;font-size:6.3px;color:#6f7585;line-height:9px">2</div><div class="a" style="left:32.5px;top:176.5px;width:12px;text-align:center;font-size:6.3px;color:#6f7585;line-height:9px">3</div><div class="a" style="left:43.9px;top:176.5px;width:12px;text-align:center;font-size:6.3px;color:#6f7585;line-height:9px">4</div><div class="a" style="left:55.3px;top:176.5px;width:12px;text-align:center;font-size:6.3px;color:#6f7585;line-height:9px">5</div><div class="a" style="left:66.8px;top:176.5px;width:12px;text-align:center;font-size:6.3px;color:#6f7585;line-height:9px">6</div><div class="a" style="left:78.2px;top:176.5px;width:12px;text-align:center;font-size:6.3px;color:#6f7585;line-height:9px">7</div><div class="a" style="left:89.6px;top:176.5px;width:12px;text-align:center;font-size:6.3px;color:#6f7585;line-height:9px">8</div><div class="a" style="left:101.0px;top:176.5px;width:12px;text-align:center;font-size:6.3px;color:#6f7585;line-height:9px">9</div><div class="a" style="left:112.5px;top:176.5px;width:12px;text-align:center;font-size:6.3px;color:#6f7585;line-height:9px">10</div><div class="a" style="left:123.9px;top:176.5px;width:12px;text-align:center;font-size:6.3px;color:#6f7585;line-height:9px">11</div><div class="a" style="left:135.3px;top:176.5px;width:12px;text-align:center;font-size:6.3px;color:#6f7585;line-height:9px">12</div><div class="a" style="left:146.8px;top:176.5px;width:12px;text-align:center;font-size:6.3px;color:#6f7585;line-height:9px">13</div><div class="a" style="left:158.2px;top:176.5px;width:12px;text-align:center;font-size:6.3px;color:#6f7585;line-height:9px">14</div><div class="a" style="left:169.6px;top:176.5px;width:12px;text-align:center;font-size:6.3px;color:#6f7585;line-height:9px">15</div><div class="a" style="left:181.1px;top:176.5px;width:12px;text-align:center;font-size:6.3px;color:#6f7585;line-height:9px">16</div><div class="a" style="left:192.5px;top:176.5px;width:12px;text-align:center;font-size:6.3px;color:#6f7585;line-height:9px">17</div><div class="a" style="left:203.9px;top:176.5px;width:12px;text-align:center;font-size:6.3px;color:#6f7585;line-height:9px">18</div><div class="a" style="left:215.3px;top:176.5px;width:12px;text-align:center;font-size:6.3px;color:#6f7585;line-height:9px">19</div><div class="a" style="left:226.8px;top:176.5px;width:12px;text-align:center;font-size:6.3px;color:#6f7585;line-height:9px">20</div><div class="a" style="left:238.2px;top:176.5px;width:12px;text-align:center;font-size:6.3px;color:#6f7585;line-height:9px">21</div><div class="a" style="left:249.6px;top:176.5px;width:12px;text-align:center;font-size:6.3px;color:#6f7585;line-height:9px">22</div><div class="a" style="left:261.1px;top:176.5px;width:12px;text-align:center;font-size:6.3px;color:#6f7585;line-height:9px">23</div><div class="a" style="left:272.5px;top:176.5px;width:12px;text-align:center;font-size:6.3px;color:#6f7585;line-height:9px">24</div><div class="a" style="left:283.9px;top:176.5px;width:12px;text-align:center;font-size:6.3px;color:#6f7585;line-height:9px">25</div><div class="a" style="left:295.4px;top:176.5px;width:12px;text-align:center;font-size:6.3px;color:#6f7585;line-height:9px">26</div><div class="a" style="left:306.8px;top:176.5px;width:12px;text-align:center;font-size:6.3px;color:#6f7585;line-height:9px">27</div><div class="a" style="left:318.2px;top:176.5px;width:12px;text-align:center;font-size:6.3px;color:#6f7585;line-height:9px">28</div><div class="a" style="left:329.6px;top:176.5px;width:12px;text-align:center;font-size:6.3px;color:#6f7585;line-height:9px">29</div><div class="a" style="left:341.1px;top:176.5px;width:12px;text-align:center;font-size:6.3px;color:#6f7585;line-height:9px">30</div><div class="a" style="left:352.5px;top:176.5px;width:12px;text-align:center;font-size:6.3px;color:#6f7585;line-height:9px">31</div>
</div>

<div class="card" style="left:111px;top:549px;width:313px;height:161px">
<div class="ttl" style="top:5.5px">Visits</div><div class="hl" style="top:20px"></div><div class="mn" style="left:284.5px;top:10px"></div><svg class="a" style="left:297.5px;top:7.5px" width="5" height="5" viewBox="0 0 5 5"><path d="M.5 .5 L4.5 4.5 M4.5 .5 L.5 4.5" stroke="#9da3af" stroke-width=".8"/></svg>
<div class="btn" style="left:11.6px;top:32px;width:63px;height:17px;line-height:15px">Web Page<svg class="chv" width="5" height="3" viewBox="0 0 5 3"><path d="M.4 .4 L2.5 2.5 L4.6 .4" fill="none" stroke="currentColor" stroke-width=".8"/></svg></div>
<div class="btn" style="left:86px;top:32px;width:47px;height:17px;line-height:15px">Today<svg class="chv" width="5" height="3" viewBox="0 0 5 3"><path d="M.4 .4 L2.5 2.5 L4.6 .4" fill="none" stroke="currentColor" stroke-width=".8"/></svg></div>
<div class="a" style="right:11.3px;top:35px;font-size:8.3px;font-weight:bold;color:#4b5166;line-height:10px">Conversion: <span style="color:#e9505e">31%</span></div>
<svg class="a" style="left:0;top:0" width="313" height="161" viewBox="0 0 313 161"><defs><linearGradient id="dv" x1="0" y1="0" x2="0" y2="1"><stop offset="0" stop-color="#4fc24a"/><stop offset="0.55" stop-color="#4aa27e"/><stop offset="1" stop-color="#5a82b6"/></linearGradient><linearGradient id="du" x1="0.15" y1="0.1" x2="0.6" y2="1"><stop offset="0" stop-color="#f99a1a"/><stop offset="0.55" stop-color="#f5336a"/><stop offset="1" stop-color="#ee137e"/></linearGradient><linearGradient id="dp" x1="0" y1="0.2" x2="0.7" y2="1"><stop offset="0" stop-color="#14cbf5"/><stop offset="1" stop-color="#2c76cf"/></linearGradient></defs><circle cx="56.69999999999999" cy="105.5" r="38.6" fill="none" stroke="#e1e4ea" stroke-width="11.7"/><path d="M56.70,144.10 A38.6,38.6 0 1 1 94.71,112.20" fill="none" stroke="url(#dv)" stroke-width="11.7" stroke-linecap="round"/><circle cx="156.7" cy="105.5" r="38.6" fill="none" stroke="#e1e4ea" stroke-width="11.7"/><path d="M193.69,116.53 A38.6,38.6 0 1 1 134.95,73.61" fill="none" stroke="url(#du)" stroke-width="11.7" stroke-linecap="round"/><circle cx="257.2" cy="105.29999999999995" r="38.6" fill="none" stroke="#e1e4ea" stroke-width="11.7"/><path d="M282.98,134.03 A38.6,38.6 0 0 1 223.54,86.41" fill="none" stroke="url(#dp)" stroke-width="11.7" stroke-linecap="round"/></svg>
<div class="a" style="left:26.7px;top:93.5px;width:60px;text-align:center;font-size:7.3px;color:#a6acb8;line-height:9px">Views</div>
<div class="a" style="left:26.7px;top:102.5px;width:60px;text-align:center;font-size:14px;font-weight:bold;color:#4b5166;line-height:16px">4782</div>
<div class="a" style="left:126.7px;top:93.5px;width:60px;text-align:center;font-size:7.3px;color:#a6acb8;line-height:9px">Users</div>
<div class="a" style="left:126.7px;top:102.5px;width:60px;text-align:center;font-size:14px;font-weight:bold;color:#4b5166;line-height:16px">1263</div>
<div class="a" style="left:227.2px;top:93.5px;width:60px;text-align:center;font-size:7.3px;color:#a6acb8;line-height:9px">Purchases</div>
<div class="a" style="left:227.2px;top:102.5px;width:60px;text-align:center;font-size:14px;font-weight:bold;color:#4b5166;line-height:16px">394</div>
</div>
<div class="card" style="left:436px;top:549px;width:240px;height:161px">
<div class="ttl" style="top:5.5px;left:12px">Messages</div><div class="hl" style="top:20px"></div><div class="mn" style="left:211.5px;top:10px"></div><svg class="a" style="left:224.5px;top:7.5px" width="5" height="5" viewBox="0 0 5 5"><path d="M.5 .5 L4.5 4.5 M4.5 .5 L.5 4.5" stroke="#9da3af" stroke-width=".8"/></svg>
<svg class="a" style="left:11.9px;top:32.0px" width="26" height="26" viewBox="0 0 28 28"><defs><clipPath id="avc1"><circle cx="14" cy="14" r="14"/></clipPath></defs><g clip-path="url(#avc1)"><rect width="28" height="28" fill="#c79a78"/>
<path d="M2 28 C1 15 5 3 14 3 C23 3 27 14 26 28 Z" fill="#9a6440"/>
<path d="M17 6 C23 9 25 18 24 28 L19 28 C20 20 19 12 17 6 Z" fill="#b98058"/>
<ellipse cx="12.5" cy="14.5" rx="4.6" ry="6" fill="#e9c2a4"/>
<path d="M7.5 11 C8 5 18 4.5 18.5 10.5 C15.5 7.5 11 8 7.5 14 Z" fill="#83502e"/>
<path d="M6 28 C7 22 10 20.5 13 20.5 C16 20.5 19 22 20 28 Z" fill="#dcae8e"/></g></svg>
<div class="a" style="left:42.2px;top:31.5px;width:187px;height:27px;background:#4cb84e;border-radius:2px"></div><svg class="a" style="left:38.5px;top:39px" width="4" height="7" viewBox="0 0 4 7"><path d="M4 0 L0 3.5 L4 7 Z" fill="#4cb84e"/></svg><div class="a" style="left:51.8px;top:35.5px;font-size:8.25px;color:#f1faf1;line-height:10.4px">Yea, i did not see you before. I'm ok. So, how<br>do you feel when you use your UI?</div>
<div class="a" style="right:18.5px;top:62.5px;font-size:6.9px;color:#b4b9c3;line-height:9px">16:48, 22 October, 2015</div>
<div class="a" style="left:11.4px;top:81.6px;width:187px;height:56px;background:#e1e5ec;border-radius:2px"></div><svg class="a" style="left:198.4px;top:90px" width="4" height="7" viewBox="0 0 4 7"><path d="M0 0 L4 3.5 L0 7 Z" fill="#e1e5ec"/></svg><div class="a" style="left:19px;top:85.5px;font-size:8.3px;color:#5a6072;line-height:9.7px">Hi! Obsess over customers: when given the<br>choice between obsessing over competitors<br>or customers, always obsess over customers.<br>Start with customers and work backward."<br>Jeff Bezos. Pretty cool =)</div>
<svg class="a" style="left:202.0px;top:81.4px" width="26" height="26" viewBox="0 0 28 28"><defs><clipPath id="avc2"><circle cx="14" cy="14" r="14"/></clipPath></defs><g clip-path="url(#avc2)"><rect width="28" height="28" fill="#f2f2f2"/>
<path d="M1 29 C2 21 8 19 14 19 C20 19 26 21 27 29 Z" fill="#1d1d1f"/>
<path d="M2 18 L8 22 L6 28 L1 26 Z" fill="#e8e8e8"/>
<ellipse cx="14.5" cy="14" rx="5" ry="5.5" fill="#caa088"/>
<path d="M7 10.5 C7 4 21 3.5 21.5 10.5 L23 11.5 L8 12 Z" fill="#1a1a1a"/>
<path d="M12 6.5 H17" stroke="#e0c040" stroke-width="1.2"/>
<path d="M11 17 C12.5 18.5 16.5 18.5 18 17" stroke="#fff" stroke-width=".8" fill="none"/></g></svg>
<div class="a" style="left:19px;top:142.5px;font-size:7.1px;color:#b4b9c3;line-height:9px">12 minutes ago</div>
</div>

<div class="card" style="left:111px;top:722px;width:240px;height:164.5px">
<div class="ttl" style="top:4.7px">Implementation</div><div class="hl" style="top:20.5px"></div><div class="mn" style="left:211.5px;top:10px"></div><svg class="a" style="left:224.5px;top:7.5px" width="5" height="5" viewBox="0 0 5 5"><path d="M.5 .5 L4.5 4.5 M4.5 .5 L.5 4.5" stroke="#9da3af" stroke-width=".8"/></svg>
<div class="a" style="left:11px;top:26.7px;font-size:7.2px;color:#b3b8c2;line-height:9px">Date</div><div class="a" style="left:69.2px;top:26.7px;font-size:7.2px;color:#b3b8c2;line-height:9px">Description</div><div class="a" style="left:184.2px;top:26.4px;font-size:7.2px;color:#b3b8c2;line-height:9px">Balance</div>
<div class="a" style="left:8px;top:41.8px;width:224px;height:1px;background:#e4e8ef"></div><div class="a" style="left:8px;top:73.3px;width:224px;height:1px;background:#e4e8ef"></div><div class="a" style="left:8px;top:102.5px;width:224px;height:1px;background:#e4e8ef"></div><div class="a" style="left:8px;top:130.3px;width:224px;height:1px;background:#e4e8ef"></div><div class="a" style="left:11.3px;top:49.7px;font-size:7.4px;font-weight:bold;color:#4b5166;line-height:10px">16 August</div><div class="a" style="left:11.3px;top:59.0px;font-size:6.2px;color:#b7bcc6;line-height:9px">Saturday</div><div class="a" style="left:69.2px;top:52.9px;font-size:7.3px;font-weight:bold;color:#4b5166;line-height:10px">Recharge</div><div class="a" style="left:183.9px;top:49.4px;width:40.3px;height:17px;border-radius:8.5px;background:#4cb84e;color:#fff;font-size:8.2px;font-weight:bold;line-height:17px;text-align:center">+234$</div>
<div class="a" style="left:11.3px;top:78.1px;font-size:7.4px;font-weight:bold;color:#4b5166;line-height:10px">14 August</div><div class="a" style="left:11.3px;top:87.4px;font-size:6.2px;color:#b7bcc6;line-height:9px">Thursday</div><div class="a" style="left:69.2px;top:82.2px;font-size:7.3px;font-weight:bold;color:#4b5166;line-height:10px">Purchase of office paper</div><div class="a" style="left:183.9px;top:78.3px;width:40.3px;height:17px;border-radius:8.5px;background:#ee4e5b;color:#fff;font-size:8.2px;font-weight:bold;line-height:17px;text-align:center">-175$</div>
<div class="a" style="left:11.3px;top:105.0px;font-size:7.4px;font-weight:bold;color:#4b5166;line-height:10px">12 August</div><div class="a" style="left:11.3px;top:114.3px;font-size:6.2px;color:#b7bcc6;line-height:9px">Tuesday</div><div class="a" style="left:69.2px;top:111.0px;font-size:7.3px;font-weight:bold;color:#4b5166;line-height:10px">Payment for hosting</div><div class="a" style="left:183.9px;top:107.1px;width:44.2px;height:17px;border-radius:8.5px;background:#ee4e5b;color:#fff;font-size:8.2px;font-weight:bold;line-height:17px;text-align:center">-3 920$</div>
<div class="a" style="left:11.3px;top:135.7px;font-size:7.4px;font-weight:bold;color:#4b5166;line-height:10px">11 August</div><div class="a" style="left:11.3px;top:145.0px;font-size:6.2px;color:#b7bcc6;line-height:9px">Monday</div><div class="a" style="left:69.2px;top:139.8px;font-size:7.3px;font-weight:bold;color:#4b5166;line-height:10px">Recharge</div><div class="a" style="left:183.9px;top:136.3px;width:40.3px;height:17px;border-radius:8.5px;background:#4cb84e;color:#fff;font-size:8.2px;font-weight:bold;line-height:17px;text-align:center">+764$</div>
</div>
<div class="card" style="left:363px;top:722px;width:313px;height:164.5px">
<div class="ttl" style="top:5px;left:11.9px">Client Activity</div><div class="hl" style="top:19.7px"></div><div class="mn" style="left:284.5px;top:10px"></div><svg class="a" style="left:297.5px;top:7.5px" width="5" height="5" viewBox="0 0 5 5"><path d="M.5 .5 L4.5 4.5 M4.5 .5 L.5 4.5" stroke="#9da3af" stroke-width=".8"/></svg>
<div class="a" style="left:11.3px;top:26.5px;font-size:7.4px;color:#b3b8c2;line-height:9px">User</div><div class="a" style="left:139.9px;top:26.5px;font-size:7.4px;color:#b3b8c2;line-height:9px">Visits</div><div class="a" style="left:176.1px;top:26.5px;font-size:7.4px;color:#b3b8c2;line-height:9px">Purchases</div><div class="a" style="left:226.4px;top:26.5px;font-size:7.4px;color:#b3b8c2;line-height:9px">Calls</div><div class="a" style="left:260.7px;top:26.5px;font-size:7.4px;color:#b3b8c2;line-height:9px">Total Profit</div><div class="a" style="left:3px;top:41.0px;width:297px;height:1px;background:#e4e8ef"></div><div class="a" style="left:3px;top:82.1px;width:297px;height:1px;background:#e4e8ef"></div><div class="a" style="left:3px;top:122.6px;width:297px;height:1px;background:#e4e8ef"></div>
<svg class="a" style="left:12.4px;top:51.2px" width="24" height="24" viewBox="0 0 28 28"><defs><clipPath id="avc1"><circle cx="14" cy="14" r="14"/></clipPath></defs><g clip-path="url(#avc1)"><rect width="28" height="28" fill="#f1efec"/>
<path d="M5 28 C5 14 6 4 14 4 C22 4 23 14 23 28 Z" fill="#1f1816"/>
<ellipse cx="14" cy="13.5" rx="4.4" ry="6" fill="#d8ae95"/>
<path d="M9.5 12 H13 M15 12 H18.5" stroke="#222" stroke-width="1.6"/>
<path d="M9 28 C10 22 12 21 14 21 C16 21 18 22 19 28 Z" fill="#c89680"/>
<path d="M12.5 17 H15.5" stroke="#b03a3a" stroke-width=".7"/></g></svg><div class="a" style="left:43.4px;top:58.2px;font-size:8.5px;font-weight:bold;color:#4b5166;line-height:10px">Angelina Vitale</div><div class="a" style="left:139.9px;top:58.2px;font-size:8.3px;color:#555b6d;line-height:10px">287</div><div class="a" style="left:176.1px;top:58.2px;font-size:8.3px;color:#555b6d;line-height:10px">34</div><div class="a" style="left:226.4px;top:58.2px;font-size:8.3px;color:#555b6d;line-height:10px">52</div><div class="a" style="left:260.7px;top:58.2px;font-size:8.3px;font-weight:bold;color:#4cb64c;line-height:10px">5 946 $</div>
<svg class="a" style="left:12.4px;top:90.8px" width="24" height="24" viewBox="0 0 28 28"><defs><clipPath id="avc2"><circle cx="14" cy="14" r="14"/></clipPath></defs><g clip-path="url(#avc2)"><rect width="28" height="28" fill="#3f6fa8"/>
<path d="M4 28 C3 15 6 4 14 4 C22 4 25 15 24 28 Z" fill="#d8a869"/>
<ellipse cx="14" cy="13.5" rx="4.5" ry="6" fill="#efc4a4"/>
<path d="M8 12 C8 6 20 6 20 12 C18 8 10 8 8 12 Z" fill="#c99555"/>
<path d="M8 28 C9 22 11 21 14 21 C17 21 19 22 20 28 Z" fill="#e8b898"/></g></svg><div class="a" style="left:43.4px;top:97.8px;font-size:8.5px;font-weight:bold;color:#4b5166;line-height:10px">Edmonia Lewis</div><div class="a" style="left:139.9px;top:97.8px;font-size:8.3px;color:#555b6d;line-height:10px">159</div><div class="a" style="left:176.1px;top:97.8px;font-size:8.3px;color:#555b6d;line-height:10px">12</div><div class="a" style="left:226.4px;top:97.8px;font-size:8.3px;color:#555b6d;line-height:10px">252</div><div class="a" style="left:260.7px;top:97.8px;font-size:8.3px;font-weight:bold;color:#4cb64c;line-height:10px">1 039 $</div>
<svg class="a" style="left:12.4px;top:129.3px" width="24" height="24" viewBox="0 0 28 28"><defs><clipPath id="avc3"><circle cx="14" cy="14" r="14"/></clipPath></defs><g clip-path="url(#avc3)"><rect width="28" height="28" fill="#f0a0b0"/>
<path d="M4 28 C3 15 6 4 14 4 C22 4 25 15 24 28 Z" fill="#e9c070"/>
<ellipse cx="14" cy="13.5" rx="4.6" ry="6" fill="#f2c6a8"/>
<path d="M8 12 C8 6 20 6 20 12 C18 8 10 8 8 12 Z" fill="#dcae5a"/>
<path d="M7 28 C8 22 11 21 14 21 C17 21 20 22 21 28 Z" fill="#e04a7a"/></g></svg><div class="a" style="left:43.4px;top:136.3px;font-size:8.5px;font-weight:bold;color:#4b5166;line-height:10px">Lawanda Anderson</div><div class="a" style="left:139.9px;top:136.3px;font-size:8.3px;color:#555b6d;line-height:10px">94</div><div class="a" style="left:176.1px;top:136.3px;font-size:8.3px;color:#555b6d;line-height:10px">3</div><div class="a" style="left:226.4px;top:136.3px;font-size:8.3px;color:#555b6d;line-height:10px">28</div><div class="a" style="left:260.7px;top:136.3px;font-size:8.3px;font-weight:bold;color:#4cb64c;line-height:10px">205 $</div>
</div>
<div class="card" style="left:111px;top:899px;width:565px;height:260.5px">
<div class="ttl" style="top:4.6px">Mail</div><div class="mn" style="left:536.5px;top:10px"></div><svg class="a" style="left:549.5px;top:7.5px" width="5" height="5" viewBox="0 0 5 5"><path d="M.5 .5 L4.5 4.5 M4.5 .5 L.5 4.5" stroke="#9da3af" stroke-width=".8"/></svg>
<div class="a" style="left:0;top:20px;width:124.5px;height:28.7px;background:#4a9fe0"></div><div class="a" style="left:125px;top:20px;width:440px;height:28.7px;background:#4fb94e"></div>
<div class="a" style="left:10.6px;top:24.4px;width:20px;height:20px;border-radius:10px;background:#fff"></div><svg class="a" style="left:11.6px;top:25.4px" width="18" height="18" viewBox="0 0 28 28"><defs><clipPath id="avc4"><circle cx="14" cy="14" r="14"/></clipPath></defs><g clip-path="url(#avc4)"><rect width="28" height="28" fill="#efede9"/>
<path d="M2 29 C3 21 8 18.5 14 18.5 C20 18.5 25 21 26 29 Z" fill="#4a4440"/>
<path d="M7 21 C9 24 19 24 21 21 L20 18.5 H8 Z" fill="#6e6661"/>
<rect x="11" y="15" width="6" height="5" fill="#8d6b5c"/>
<ellipse cx="14" cy="12.3" rx="5.2" ry="6.4" fill="#b08672"/>
<path d="M8.6 11.5 C8 4.5 20 4.5 19.4 11.5 C18.8 8 9.2 8 8.6 11.5 Z" fill="#3b2c24"/>
<path d="M9 13.5 C9.5 19.5 18.5 19.5 19 13.5 C18 17 10 17 9 13.5 Z" fill="#4d3a30"/></g></svg><div class="a" style="left:34.6px;top:25.2px;font-size:7.1px;font-weight:bold;color:#f4f9fd;line-height:10px">Jack Williams</div><div class="a" style="left:34.6px;top:35.0px;font-size:6.1px;color:#d8eaf8;line-height:8px">jackwilliams@gmail.com</div>
<div class="a" style="left:135.9px;top:29.6px;font-size:8.4px;font-weight:bold;color:#f2faf2;line-height:10px">Inbox</div><div class="a" style="left:453.4px;top:26.2px;width:100.6px;height:16.5px;border-radius:8.3px;background:#86d084"></div><svg class="a" style="left:457.6px;top:30.5px" width="9" height="9" viewBox="0 0 9 9"><circle cx="3.8" cy="3.8" r="3.1" fill="none" stroke="#e8f6e8" stroke-width="1"/><path d="M6.1 6.1 L8.3 8.3" stroke="#e8f6e8" stroke-width="1.1"/></svg><div class="a" style="left:469.7px;top:29.7px;font-size:7.4px;color:#eef8ee;line-height:10px">Search ...</div>
<div class="a" style="left:12px;top:56px;width:100.6px;height:17px;border-radius:8.5px;background:#f0525f;color:#fde8ea;font-size:8px;line-height:17px;text-align:center">New</div>
<div class="a" style="left:0;top:80px;width:125px;height:18px;background:#e3e7ee"></div><div class="a" style="left:0;top:80px;width:1.6px;height:18px;background:#e5606c"></div>
<svg class="a" style="left:11.4px;top:85.6px" width="8" height="8" viewBox="0 0 8 8"><path d="M.8 4 L2.2 1 H5.8 L7.2 4 V7.2 H.8 Z M.8 4 H2.8 L3.3 5 H4.7 L5.2 4 H7.2" fill="none" stroke="#8e94a2" stroke-width=".8"/></svg><div class="a" style="left:24.6px;top:85.2px;font-size:7.4px;color:#5b6174;line-height:10px">Inbox</div>
<svg class="a" style="left:11.4px;top:104.4px" width="8" height="8" viewBox="0 0 8 8"><rect x=".6" y="1.4" width="6.8" height="5.2" fill="none" stroke="#8e94a2" stroke-width=".8"/><path d="M.6 1.6 L4 4.4 L7.4 1.6" fill="none" stroke="#8e94a2" stroke-width=".8"/></svg><div class="a" style="left:24.6px;top:104.0px;font-size:7.4px;color:#5b6174;line-height:10px">Sent Mail</div>
<svg class="a" style="left:11.4px;top:122.4px" width="8" height="8" viewBox="0 0 8 8"><path d="M4 .5 L5 3 L7.6 3.1 L5.6 4.8 L6.3 7.4 L4 5.9 L1.7 7.4 L2.4 4.8 L.4 3.1 L3 3 Z" fill="none" stroke="#8e94a2" stroke-width=".8"/></svg><div class="a" style="left:24.6px;top:122.0px;font-size:7.4px;color:#5b6174;line-height:10px">Important</div>
<svg class="a" style="left:11.4px;top:142.4px" width="8" height="8" viewBox="0 0 8 8"><rect x=".6" y=".6" width="6.8" height="6.8" fill="none" stroke="#8e94a2" stroke-width=".8"/><path d="M2.5 5.5 L5.5 2.5 M3.5 2.5 H5.5 V4.5" fill="none" stroke="#8e94a2" stroke-width=".8"/></svg><div class="a" style="left:24.6px;top:142.0px;font-size:7.4px;color:#5b6174;line-height:10px">Drafts</div>
<svg class="a" style="left:11.4px;top:161.0px" width="8" height="8" viewBox="0 0 8 8"><path d="M1.5 2.2 H6.5 L6 7.5 H2 Z" fill="#8e94a2"/><path d="M.8 1.6 H7.2 M3 1.6 V.6 H5 V1.6" fill="none" stroke="#8e94a2" stroke-width=".8"/></svg><div class="a" style="left:24.6px;top:160.6px;font-size:7.4px;color:#5b6174;line-height:10px">Trash</div>
<div class="a" style="left:100.6px;top:83.6px;width:12px;height:12px;border-radius:6px;background:#ea4d59;color:#fde8ea;font-size:6.5px;line-height:12px;text-align:center">9</div><div class="a" style="left:100.6px;top:120.4px;width:12px;height:12px;border-radius:6px;background:#ea4d59;color:#fde8ea;font-size:6.5px;line-height:12px;text-align:center">2</div><div class="a" style="left:0;top:174.4px;width:125px;height:1px;background:#e4e8ef"></div><div class="a" style="left:12.0px;top:180.1px;font-size:7.2px;color:#b9bec8;line-height:9px">Labels</div><svg class="a" style="left:107.0px;top:183.0px" width="6" height="4" viewBox="0 0 6 4"><path d="M.5 .5 L3 3 L5.5 .5" fill="none" stroke="#b9bec8" stroke-width=".8"/></svg>
<svg class="a" style="left:11.4px;top:199.4px" width="8" height="8" viewBox="0 0 8 8"><circle cx="4" cy="4" r="3.1" fill="none" stroke="#8fb6d9" stroke-width=".9"/></svg><div class="a" style="left:24.6px;top:199.0px;font-size:7.4px;color:#5b6174;line-height:10px">Work</div>
<svg class="a" style="left:11.4px;top:218.6px" width="8" height="8" viewBox="0 0 8 8"><circle cx="4" cy="4" r="3.1" fill="none" stroke="#8dcf88" stroke-width=".9"/></svg><div class="a" style="left:24.6px;top:218.2px;font-size:7.4px;color:#5b6174;line-height:10px">Family</div>
<svg class="a" style="left:11.4px;top:237.6px" width="8" height="8" viewBox="0 0 8 8"><circle cx="4" cy="4" r="3.1" fill="none" stroke="#e58c94" stroke-width=".9"/></svg><div class="a" style="left:24.6px;top:237.2px;font-size:7.4px;color:#5b6174;line-height:10px">Friends</div>
<div class="a" style="left:125px;top:49px;width:1px;height:211.5px;background:#e4e8ef"></div>
<div class="a" style="left:137.9px;top:56px;width:34.2px;height:17px;background:#eef2f7;border:1px solid #e6eaf0;border-radius:8.5px;font-size:7.4px;color:#5b6174;line-height:15px;text-align:center"></div><div class="a" style="left:145.0px;top:61px;width:7px;height:7px;border:.9px solid #6d7383;border-radius:1.2px"></div><div class="a" style="left:155.9px;top:59.6px;font-size:7.4px;color:#5b6174;line-height:10px">All</div><div class="a" style="left:184.4px;top:56px;width:40.6px;height:17px;background:#eef2f7;border:1px solid #e6eaf0;border-radius:8.5px;font-size:7.4px;color:#5b6174;line-height:15px;text-align:center">Mark<svg class="chv" width="5" height="3" viewBox="0 0 5 3"><path d="M.4 .4 L2.5 2.5 L4.6 .4" fill="none" stroke="currentColor" stroke-width=".8"/></svg></div><div class="a" style="left:237.3px;top:56px;width:41.1px;height:17px;background:#eef2f7;border:1px solid #e6eaf0;border-radius:8.5px;font-size:7.4px;color:#5b6174;line-height:15px;text-align:center">Move<svg class="chv" width="5" height="3" viewBox="0 0 5 3"><path d="M.4 .4 L2.5 2.5 L4.6 .4" fill="none" stroke="currentColor" stroke-width=".8"/></svg></div><div class="a" style="left:422.4px;top:57px;width:39.6px;height:16px;background:#eef2f7;border:1px solid #e6eaf0;border-radius:8.5px;font-size:7.4px;color:#5b6174;line-height:15px;text-align:center">Show<svg class="chv" width="5" height="3" viewBox="0 0 5 3"><path d="M.4 .4 L2.5 2.5 L4.6 .4" fill="none" stroke="currentColor" stroke-width=".8"/></svg></div><div class="a" style="left:475.0px;top:59.6px;font-size:7.1px;color:#5b6174;line-height:10px">1-50 of 471</div><div class="a" style="left:515.7px;top:56.6px;width:16px;height:16px;border-radius:8px;background:#eef2f7;border:1px solid #e6eaf0"></div><svg class="a" style="left:521.5px;top:61.1px" width="5" height="7" viewBox="0 0 5 7"><path d="M3.5 .8 L1 3.5 L3.5 6.2" fill="none" stroke="#6d7383" stroke-width=".8"/></svg><div class="a" style="left:537.6px;top:56.6px;width:16px;height:16px;border-radius:8px;background:#eef2f7;border:1px solid #e6eaf0"></div><svg class="a" style="left:543.4px;top:61.1px" width="5" height="7" viewBox="0 0 5 7"><path d="M1 .8 L3.5 3.5 L1 6.2" fill="none" stroke="#6d7383" stroke-width=".8"/></svg><div class="a" style="left:125px;top:80.3px;width:440px;height:1px;background:#e6eaf0"></div>
<div class="a" style="left:137px;top:99.5px;width:416.5px;height:18.7px;background:#e3e7ee"></div>
<div class="a" style="left:145.0px;top:86.1px;width:7px;height:7px;border:.9px solid #b3b9c4;border-radius:1.2px"></div><svg class="a" style="left:160.5px;top:85.1px" width="9" height="9" viewBox="0 0 8 8"><path d="M4 .3 L5 2.9 L7.8 3 L5.7 4.8 L6.4 7.6 L4 6 L1.6 7.6 L2.3 4.8 L.2 3 L3 2.9 Z" fill="#ea4d5a"/></svg><div class="a" style="left:176.0px;top:85.1px;font-size:7.4px;font-weight:bold;color:#4b5166;line-height:10px">Mansion Tech</div><div class="a" style="left:271.5px;top:85.1px;font-size:7.5px;font-weight:bold;color:#4b5166;line-height:10px">New Tasks</div><div class="a" style="right:20.5px;top:85.1px;font-size:7.3px;font-weight:bold;color:#4b5166;line-height:10px">11:48 AM</div>
<div class="a" style="left:145.0px;top:105.0px;width:7px;height:7px;border:.9px solid #b3b9c4;border-radius:1.2px"></div><svg class="a" style="left:160.5px;top:104.0px" width="9" height="9" viewBox="0 0 8 8"><path d="M4 .3 L5 2.9 L7.8 3 L5.7 4.8 L6.4 7.6 L4 6 L1.6 7.6 L2.3 4.8 L.2 3 L3 2.9 Z" fill="#e2e6ed"/></svg><div class="a" style="left:176.0px;top:104.0px;font-size:7.4px;font-weight:bold;color:#4b5166;line-height:10px">Blurpix Studio</div><div class="a" style="left:271.5px;top:104.0px;font-size:7.5px;font-weight:bold;color:#4b5166;line-height:10px">Hi man, How are you?</div><div class="a" style="right:20.5px;top:104.0px;font-size:7.3px;font-weight:bold;color:#4b5166;line-height:10px">Sep 19</div>
<div class="a" style="left:141px;top:117.9px;width:412.5px;height:1px;background:#e6eaf0"></div><div class="a" style="left:145.0px;top:123.8px;width:7px;height:7px;border:.9px solid #b3b9c4;border-radius:1.2px"></div><svg class="a" style="left:160.5px;top:122.8px" width="9" height="9" viewBox="0 0 8 8"><path d="M4 .3 L5 2.9 L7.8 3 L5.7 4.8 L6.4 7.6 L4 6 L1.6 7.6 L2.3 4.8 L.2 3 L3 2.9 Z" fill="#e2e6ed"/></svg><div class="a" style="left:176.0px;top:122.8px;font-size:7.4px;font-weight:normal;color:#5b6174;line-height:10px">Facebook</div><div class="a" style="left:271.5px;top:122.8px;font-size:7.5px;font-weight:normal;color:#5b6174;line-height:10px">Lorem ipsum dolor sit amet</div><div class="a" style="right:20.5px;top:122.8px;font-size:7.3px;font-weight:normal;color:#5b6174;line-height:10px">Sep 17</div>
<div class="a" style="left:141px;top:136.7px;width:412.5px;height:1px;background:#e6eaf0"></div><div class="a" style="left:145.0px;top:142.7px;width:7px;height:7px;border:.9px solid #b3b9c4;border-radius:1.2px"></div><svg class="a" style="left:160.5px;top:141.7px" width="9" height="9" viewBox="0 0 8 8"><path d="M4 .3 L5 2.9 L7.8 3 L5.7 4.8 L6.4 7.6 L4 6 L1.6 7.6 L2.3 4.8 L.2 3 L3 2.9 Z" fill="#e2e6ed"/></svg><div class="a" style="left:176.0px;top:141.7px;font-size:7.4px;font-weight:normal;color:#5b6174;line-height:10px">Twitter</div><div class="a" style="left:271.5px;top:141.7px;font-size:7.5px;font-weight:normal;color:#5b6174;line-height:10px">Dolor sit amet, consectetuer adipiscing</div><div class="a" style="right:20.5px;top:141.7px;font-size:7.3px;font-weight:normal;color:#5b6174;line-height:10px">Sep 16</div>
<div class="a" style="left:141px;top:155.6px;width:412.5px;height:1px;background:#e6eaf0"></div><div class="a" style="left:145.0px;top:161.6px;width:7px;height:7px;border:.9px solid #b3b9c4;border-radius:1.2px"></div><svg class="a" style="left:160.5px;top:160.6px" width="9" height="9" viewBox="0 0 8 8"><path d="M4 .3 L5 2.9 L7.8 3 L5.7 4.8 L6.4 7.6 L4 6 L1.6 7.6 L2.3 4.8 L.2 3 L3 2.9 Z" fill="#ea4d5a"/></svg><div class="a" style="left:176.0px;top:160.6px;font-size:7.4px;font-weight:normal;color:#5b6174;line-height:10px">Virtual Box</div><div class="a" style="left:271.5px;top:160.6px;font-size:7.5px;font-weight:normal;color:#5b6174;line-height:10px">Donald Markus and his story.</div><div class="a" style="right:20.5px;top:160.6px;font-size:7.3px;font-weight:normal;color:#5b6174;line-height:10px">Sep 09</div>
<div class="a" style="left:141px;top:174.5px;width:412.5px;height:1px;background:#e6eaf0"></div><div class="a" style="left:145.0px;top:180.5px;width:7px;height:7px;border:.9px solid #b3b9c4;border-radius:1.2px"></div><svg class="a" style="left:160.5px;top:179.5px" width="9" height="9" viewBox="0 0 8 8"><path d="M4 .3 L5 2.9 L7.8 3 L5.7 4.8 L6.4 7.6 L4 6 L1.6 7.6 L2.3 4.8 L.2 3 L3 2.9 Z" fill="#e2e6ed"/></svg><div class="a" style="left:176.0px;top:179.5px;font-size:7.4px;font-weight:normal;color:#5b6174;line-height:10px">Apple Wision</div><div class="a" style="left:271.5px;top:179.5px;font-size:7.5px;font-weight:normal;color:#5b6174;line-height:10px">Hello, where are you?</div><div class="a" style="right:20.5px;top:179.5px;font-size:7.3px;font-weight:normal;color:#5b6174;line-height:10px">Aug 28</div>
<div class="a" style="left:141px;top:193.4px;width:412.5px;height:1px;background:#e6eaf0"></div><div class="a" style="left:145.0px;top:199.3px;width:7px;height:7px;border:.9px solid #b3b9c4;border-radius:1.2px"></div><svg class="a" style="left:160.5px;top:198.3px" width="9" height="9" viewBox="0 0 8 8"><path d="M4 .3 L5 2.9 L7.8 3 L5.7 4.8 L6.4 7.6 L4 6 L1.6 7.6 L2.3 4.8 L.2 3 L3 2.9 Z" fill="#e2e6ed"/></svg><div class="a" style="left:176.0px;top:198.3px;font-size:7.4px;font-weight:normal;color:#5b6174;line-height:10px">Max Drone</div><div class="a" style="left:271.5px;top:198.3px;font-size:7.5px;font-weight:normal;color:#5b6174;line-height:10px">Boxoffice and paper docs</div><div class="a" style="right:20.5px;top:198.3px;font-size:7.3px;font-weight:normal;color:#5b6174;line-height:10px">Aug 27</div>
<div class="a" style="left:141px;top:212.2px;width:412.5px;height:1px;background:#e6eaf0"></div><div class="a" style="left:145.0px;top:218.2px;width:7px;height:7px;border:.9px solid #b3b9c4;border-radius:1.2px"></div><svg class="a" style="left:160.5px;top:217.2px" width="9" height="9" viewBox="0 0 8 8"><path d="M4 .3 L5 2.9 L7.8 3 L5.7 4.8 L6.4 7.6 L4 6 L1.6 7.6 L2.3 4.8 L.2 3 L3 2.9 Z" fill="#e2e6ed"/></svg><div class="a" style="left:176.0px;top:217.2px;font-size:7.4px;font-weight:normal;color:#5b6174;line-height:10px">Timeweb</div><div class="a" style="left:271.5px;top:217.2px;font-size:7.5px;font-weight:normal;color:#5b6174;line-height:10px">Financial statistic</div><div class="a" style="right:20.5px;top:217.2px;font-size:7.3px;font-weight:normal;color:#5b6174;line-height:10px">Aug 22</div>
<div class="a" style="left:141px;top:231.1px;width:412.5px;height:1px;background:#e6eaf0"></div><div class="a" style="left:145.0px;top:237.1px;width:7px;height:7px;border:.9px solid #b3b9c4;border-radius:1.2px"></div><svg class="a" style="left:160.5px;top:236.1px" width="9" height="9" viewBox="0 0 8 8"><path d="M4 .3 L5 2.9 L7.8 3 L5.7 4.8 L6.4 7.6 L4 6 L1.6 7.6 L2.3 4.8 L.2 3 L3 2.9 Z" fill="#ea4d5a"/></svg><div class="a" style="left:176.0px;top:236.1px;font-size:7.4px;font-weight:normal;color:#5b6174;line-height:10px">Bill Markel</div><div class="a" style="left:271.5px;top:236.1px;font-size:7.5px;font-weight:normal;color:#5b6174;line-height:10px">Client Activity Status</div><div class="a" style="right:20.5px;top:236.1px;font-size:7.3px;font-weight:normal;color:#5b6174;line-height:10px">Aug 14</div>
<div class="a" style="left:141px;top:250.0px;width:412.5px;height:1px;background:#e6eaf0"></div></div>

</body></html>
